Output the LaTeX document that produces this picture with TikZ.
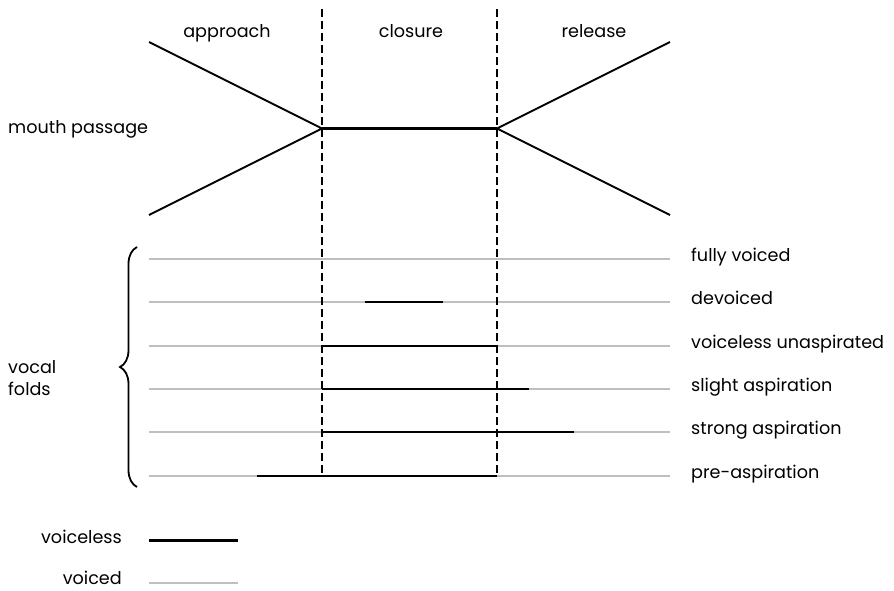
\documentclass[tikz,border=0pt]{standalone}
\usepackage{fontspec}
\setmainfont{Poppins}
\usetikzlibrary{decorations.pathreplacing}
\begin{document}
\begin{tikzpicture}[x=1pt,y=-1pt,
  lbl/.style={inner sep=0pt,font=\fontsize{17.6}{21}\selectfont},
  voicelessline/.style={line width=2.4pt,black},
  voicedline/.style={line width=1.8pt,color=black!25},
  mouthline/.style={line width=1.9pt,black},
  phase/.style={line width=1.3pt,dash pattern=on 8pt off 4pt},
  bracestyle/.style={line width=1.8pt,decorate,decoration={brace,amplitude=17pt,aspect=0.5}}]
\useasboundingbox (0,0) rectangle (894,590);

% phase labels
\node[lbl,anchor=base] (approach) at (227,37) {approach};
\node[lbl,anchor=base] (closure) at (411,37) {closure};
\node[lbl,anchor=base] (release) at (594,37) {release};

% mouth passage: narrowing, closure, widening
\coordinate (tl) at (149,42);
\coordinate (bl) at (149,215);
\coordinate (tr) at (670,42);
\coordinate (br) at (670,215);
\coordinate (cl) at (322,128.5);
\coordinate (cr) at (497,128.5);
\node[lbl,anchor=base west] (mouth) at (8,133) {mouth passage};
\draw[mouthline] (tl) -- (cl) -- (bl);
\draw[mouthline] (tr) -- (cr) -- (br);
\draw[mouthline,line width=2.4pt] (cl) -- (cr);

% vocal fold rows
\foreach \name/\y/\txt in {r1/259/fully voiced, r2/302/devoiced, r3/346/voiceless unaspirated,
                           r4/389/slight aspiration, r5/432/strong aspiration, r6/476/pre-aspiration}{
  \coordinate (\name a) at (149,\y);
  \coordinate (\name b) at (670,\y);
  \draw[voicedline] (\name a) -- (\name b);
  \node[lbl,anchor=mid west] (\name l) at (691,\y) {\txt};
}

% voiceless stretches
\coordinate (v2a) at (365,302); \coordinate (v2b) at (443,302);
\coordinate (v3a) at (322,346); \coordinate (v3b) at (497,346);
\coordinate (v4a) at (322,389); \coordinate (v4b) at (529,389);
\coordinate (v5a) at (322,432); \coordinate (v5b) at (574,432);
\coordinate (v6a) at (257,476); \coordinate (v6b) at (497,476);
\foreach \i in {2,...,6}{\draw[voicelessline] (v\i a) -- (v\i b);}

% phase boundaries
\coordinate (d1t) at (322,9); \coordinate (d1b) at (322,476);
\coordinate (d2t) at (497,9); \coordinate (d2b) at (497,476);
\draw[phase] (d1t) -- (d1b);
\draw[phase] (d2t) -- (d2b);

% vocal folds brace
\coordinate (braceb) at (137,487);
\coordinate (bracet) at (137,247);
\draw[bracestyle] (braceb) -- (bracet);
\node[lbl,anchor=base west] (vocal) at (8,373) {vocal};
\node[lbl,anchor=base west] (folds) at (8,395) {folds};

% legend
\node[lbl,anchor=base east] (kvl) at (122,543) {voiceless};
\coordinate (kvla) at (149,540.5); \coordinate (kvlb) at (238,540.5);
\draw[voicelessline,line width=3.2pt] (kvla) -- (kvlb);
\node[lbl,anchor=base east] (kvd) at (122,584) {voiced};
\coordinate (kvda) at (149,583); \coordinate (kvdb) at (238,583);
\draw[voicedline] (kvda) -- (kvdb);
\end{tikzpicture}
\end{document}
